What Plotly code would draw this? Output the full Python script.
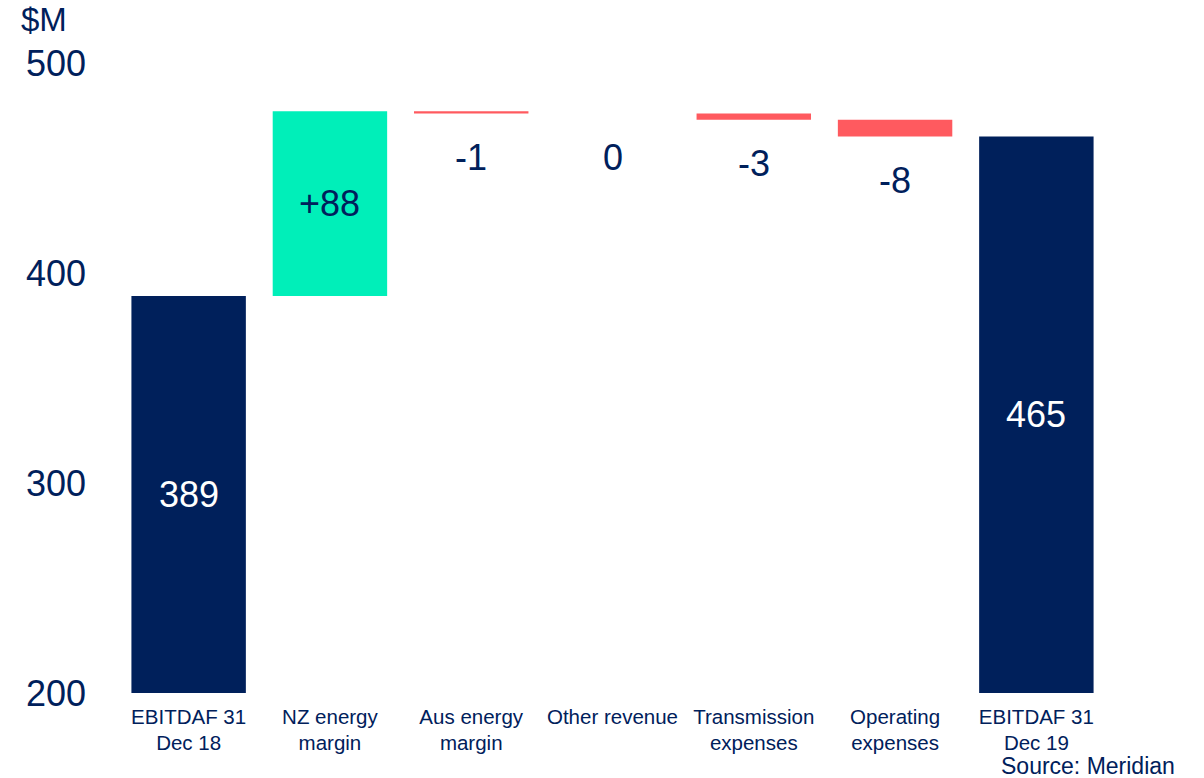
import plotly.graph_objects as go

categories = ["EBITDAF 31<br>Dec 18", "NZ energy<br>margin", "Aus energy<br>margin",
              "Other revenue", "Transmission<br>expenses", "Operating<br>expenses",
              "EBITDAF 31<br>Dec 19"]
values = [389, 88, -1, 0, -3, -8, 465]
measures = ["absolute", "relative", "relative", "relative", "relative", "relative", "total"]
labels = ["389", "+88", "-1", "0", "-3", "-8", "465"]
y_ticks = [200, 300, 400, 500]

NAVY = "#00205B"
GREEN = "#00EFB9"
RED = "#FF5A5F"

fig = go.Figure(go.Waterfall(
    x=categories, y=values, measure=measures,
    increasing=dict(marker=dict(color=GREEN)),
    decreasing=dict(marker=dict(color=RED)),
    totals=dict(marker=dict(color=NAVY)),
    connector=dict(visible=False),
    textposition="none",
    hoverinfo="skip",
))

# labels computed from data
running = 0
annotations = []
for i, (m, v, lab) in enumerate(zip(measures, values, labels)):
    if m == "absolute":
        lo, hi = 200, v
        running = v
        annotations.append(dict(x=categories[i], y=(lo + hi) / 2, text=lab, showarrow=False,
                                font=dict(size=36, color="white")))
    elif m == "total":
        lo, hi = 200, running
        annotations.append(dict(x=categories[i], y=(lo + hi) / 2, text=lab, showarrow=False,
                                font=dict(size=36, color="white")))
    else:
        start = running
        running += v
        if v > 0:
            annotations.append(dict(x=categories[i], y=(start + running) / 2, text=lab,
                                    showarrow=False, font=dict(size=36, color=NAVY)))
        else:
            annotations.append(dict(x=categories[i], y=min(start, running) - 21, text=lab,
                                    showarrow=False, font=dict(size=36, color=NAVY)))

annotations.append(dict(xref="paper", yref="paper", x=-0.1, y=1.0, yshift=44,
                        text="$M", showarrow=False, xanchor="left", yanchor="middle",
                        font=dict(size=33, color=NAVY)))
annotations.append(dict(xref="paper", yref="paper", x=1.071, y=0, yshift=-73,
                        text="Source: Meridian", showarrow=False, xanchor="right",
                        yanchor="middle", font=dict(size=23, color=NAVY)))

fig.update_layout(
    width=1204, height=778,
    margin=dict(l=118, r=97, t=63, b=85),
    paper_bgcolor="white", plot_bgcolor="white",
    font=dict(family="Liberation Sans, Arial, sans-serif", color=NAVY),
    showlegend=False,
    waterfallgap=0.19,
    annotations=annotations,
    xaxis=dict(showgrid=False, zeroline=False, showline=False, ticks="",
               ticklabelstandoff=9, tickfont=dict(size=20.5, color=NAVY)),
    yaxis=dict(range=[200, 500], tickvals=y_ticks, showgrid=False, zeroline=False,
               showline=False, ticks="", ticklabelstandoff=31,
               tickfont=dict(size=36, color=NAVY)),
)

fig.write_html("out.html")
